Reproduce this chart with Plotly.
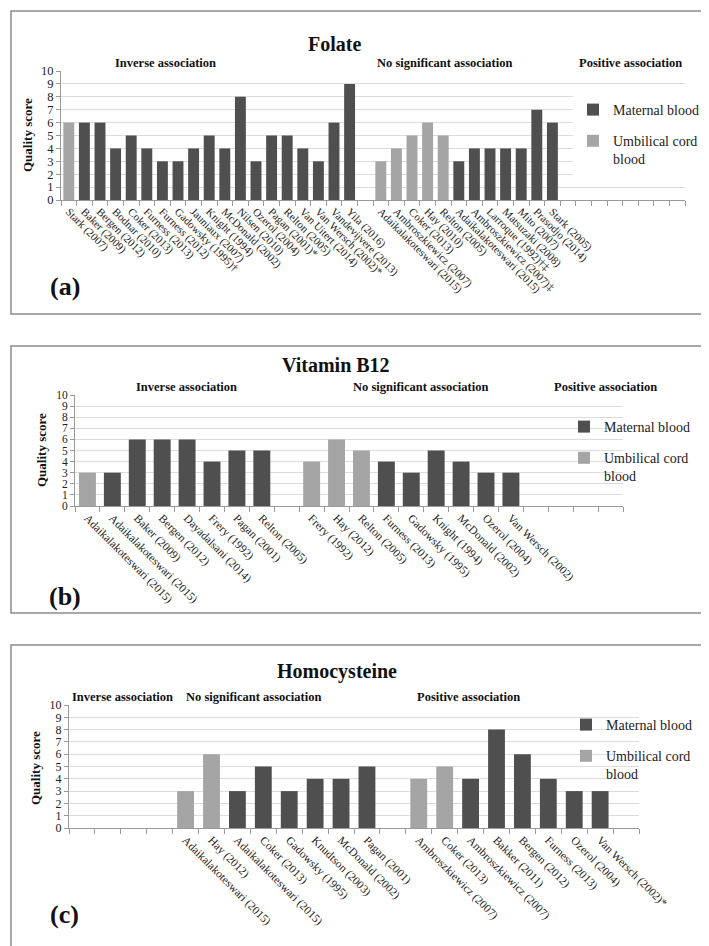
import plotly.graph_objects as go

W, H = 709, 946
SERIF = "Liberation Serif"
DARK = "#4f4f4f"
LIGHT = "#a5a5a5"
AXIS = "#9a9a9a"
GRID = "#dcdcdc"

# ---------------- Folate ----------------
FOL_INV_LABELS = ["Stark (2007)", "Baker (2009)", "Bergen (2012)", "Bodnar (2010)", "Coker (2013)",
                  "Furness (2013)", "Furness (2012)", "Gadowsky (1995)†", "Jauniaux (2007)",
                  "Knight (1994)", "McDonald (2002)", "Nilsen (2010)", "Ozerol (2004)",
                  "Pagan (2001)*", "Relton (2005)", "Van Uitert (2014)", "Van Wersch (2002)*",
                  "Vandevijvere (2013)", "Yila (2016)"]
FOL_INV_VALUES = [6, 6, 6, 4, 5, 4, 3, 3, 4, 5, 4, 8, 3, 5, 5, 4, 3, 6, 9]
FOL_INV_SOURCE = ["U", "M", "M", "M", "M", "M", "M", "M", "M", "M", "M", "M", "M", "M", "M", "M", "M", "M", "M"]

FOL_NS_LABELS = ["Adaikalakoteswari (2015)", "Ambroszkiewicz (2007)", "Coker (2013)", "Hay (2010)",
                 "Relton (2005)", "Adaikalakoteswari (2015)", "Ambroszkiewicz (2007)‡",
                 "Larroque (1992)†‡", "Matsuzaki (2008)", "Mito (2007)", "Prasodjo (2014)", "Stark (2005)"]
FOL_NS_VALUES = [3, 4, 5, 6, 5, 3, 4, 4, 4, 4, 7, 6]
FOL_NS_SOURCE = ["U", "U", "U", "U", "U", "M", "M", "M", "M", "M", "M", "M"]

# ---------------- Vitamin B12 ----------------
B12_INV_LABELS = ["Adaikalakoteswari (2015)", "Adaikalakoteswari (2015)", "Baker (2009)", "Bergen (2012)",
                  "Dayadalsani (2014)", "Frery (1992)", "Pagan (2001)", "Relton (2005)"]
B12_INV_VALUES = [3, 3, 6, 6, 6, 4, 5, 5]
B12_INV_SOURCE = ["U", "M", "M", "M", "M", "M", "M", "M"]

B12_NS_LABELS = ["Frery (1992)", "Hay (2012)", "Relton (2005)", "Furness (2013)", "Gadowsky (1995)",
                 "Knight (1994)", "McDonald (2002)", "Ozerol (2004)", "Van Wersch (2002)"]
B12_NS_VALUES = [4, 6, 5, 4, 3, 5, 4, 3, 3]
B12_NS_SOURCE = ["U", "U", "U", "M", "M", "M", "M", "M", "M"]

# ---------------- Homocysteine ----------------
HCY_NS_LABELS = ["Adaikalakoteswari (2015)", "Hay (2012)", "Adaikalakoteswari (2015)", "Coker (2013)",
                 "Gadowsky (1995)", "Knudtson (2003)", "McDonald (2002)", "Pagan (2001)"]
HCY_NS_VALUES = [3, 6, 3, 5, 3, 4, 4, 5]
HCY_NS_SOURCE = ["U", "U", "M", "M", "M", "M", "M", "M"]

HCY_POS_LABELS = ["Ambroszkiewicz (2007)", "Coker (2013)", "Ambroszkiewicz (2007)", "Bakker (2011)",
                  "Bergen (2012)", "Furness (2013)", "Ozerol (2004)", "Van Wersch (2002)*"]
HCY_POS_VALUES = [4, 5, 4, 8, 6, 4, 3, 3]
HCY_POS_SOURCE = ["U", "U", "M", "M", "M", "M", "M", "M"]

SECTIONS = ["Inverse association", "No significant association", "Positive association"]
SERIES = {"M": ("Maternal blood", DARK), "U": ("Umbilical cord<br>blood", LIGHT)}


def place(segments):
    labels, values, sources = [], [], []
    for seg in segments:
        if isinstance(seg, int):
            labels += [""] * seg
            values += [None] * seg
            sources += [None] * seg
        else:
            labels += list(seg[0])
            values += list(seg[1])
            sources += list(seg[2])
    return labels, values, sources


PANELS = [
    dict(title="Folate", tag="(a)",
         segments=[(FOL_INV_LABELS, FOL_INV_VALUES, FOL_INV_SOURCE), 1,
                   (FOL_NS_LABELS, FOL_NS_VALUES, FOL_NS_SOURCE), 8],
         plot=(53, 677, 63, 192), border=(3, 706, 3, 306), title_xy=(326, 36),
         sec_x=[157, 436, 622], sec_y=55, legend_xy=(565, 86), legend_bg="white",
         ytitle_xy=(20, 127), ytick=12.5,
         tag_xy=(57, 278), bargap=0.3, tickfont=11),
    dict(title="Vitamin B12", tag="(b)",
         segments=[(B12_INV_LABELS, B12_INV_VALUES, B12_INV_SOURCE), 1,
                   (B12_NS_LABELS, B12_NS_VALUES, B12_NS_SOURCE), 4],
         plot=(67, 615, 387, 498), border=(3, 706, 338, 605), title_xy=(328, 357),
         sec_x=[178, 412, 597], sec_y=379, legend_xy=(556, 403), legend_bg="rgba(0,0,0,0)",
         ytitle_xy=(34, 442), ytick=11.5,
         tag_xy=(57, 588), bargap=0.32, tickfont=11.5),
    dict(title="Homocysteine", tag="(c)",
         segments=[4, (HCY_NS_LABELS, HCY_NS_VALUES, HCY_NS_SOURCE), 1,
                   (HCY_POS_LABELS, HCY_POS_VALUES, HCY_POS_SOURCE), 1],
         plot=(61, 631, 697, 820), border=(3, 706, 637, 943), title_xy=(329, 663),
         sec_x=[114, 245, 460], sec_y=689, legend_xy=(558, 701), legend_bg="rgba(0,0,0,0)",
         ytitle_xy=(27, 760), ytick=12,
         tag_xy=(56, 906), bargap=0.35, tickfont=11.5),
]


def px(x):
    return x / W


def py(y):
    return 1 - y / H


fig = go.Figure()
annotations, shapes = [], []
layout = {}

for k, p in enumerate(PANELS, start=1):
    sfx = "" if k == 1 else str(k)
    labels, values, sources = place(p["segments"])
    n = len(labels)
    legend_name = "legend" + sfx
    for key in ["M", "U"]:
        name, color = SERIES[key]
        xs = [i for i, s in enumerate(sources) if s == key]
        ys = [values[i] for i in xs]
        fig.add_trace(go.Bar(x=xs, y=ys, name=name, marker=dict(color=color, line=dict(width=0)),
                             width=1 - p["bargap"],
                             xaxis="x" + sfx, yaxis="y" + sfx, legend=legend_name,
                             legendgroup=f"{k}{key}", showlegend=True))
    x0, x1, y0, y1 = p["plot"]
    tickvals = [i for i, lab in enumerate(labels) if lab]
    layout["xaxis" + sfx] = dict(
        domain=[px(x0), px(x1)], range=[-0.5, n - 0.5], anchor="y" + sfx,
        tickmode="array", tickvals=tickvals, ticktext=[labels[i] for i in tickvals],
        tickangle=45, ticks="", showgrid=False, zeroline=False,
        showline=True, linecolor=AXIS, linewidth=1,
        tickfont=dict(family=SERIF, size=p["tickfont"], color="#222"),
        minor=dict(tickmode="array", tickvals=[i - 0.5 for i in range(n + 1)],
                   ticks="outside", ticklen=5, tickcolor=AXIS, tickwidth=1, showgrid=False),
        automargin=False, fixedrange=True)
    layout["yaxis" + sfx] = dict(
        domain=[py(y1), py(y0)], range=[0, 10], anchor="x" + sfx,
        tickmode="array", tickvals=list(range(0, 11)),
        ticks="outside", ticklen=4, tickcolor=AXIS,
        showgrid=True, gridcolor=GRID, gridwidth=1, zeroline=False,
        showline=True, linecolor=AXIS, linewidth=1,
        tickfont=dict(family=SERIF, size=p["ytick"], color="#222"),
        automargin=False, fixedrange=True)
    lx, ly = p["legend_xy"]
    layout[legend_name] = dict(
        x=px(lx), y=py(ly), xanchor="left", yanchor="top",
        bgcolor=p["legend_bg"], font=dict(family=SERIF, size=14, color="#222"),
        traceorder="grouped", tracegroupgap=10, valign="top", itemwidth=30)
    tx, ty = p["title_xy"]
    annotations.append(dict(text=f"<b>{p['title']}</b>", x=px(tx), y=py(ty), xref="paper", yref="paper",
                            showarrow=False, xanchor="center", yanchor="middle",
                            font=dict(family=SERIF, size=20, color="#111")))
    for text, sx in zip(SECTIONS, p["sec_x"]):
        annotations.append(dict(text=f"<b>{text}</b>", x=px(sx), y=py(p["sec_y"]), xref="paper",
                                yref="paper", showarrow=False, xanchor="center", yanchor="middle",
                                font=dict(family=SERIF, size=12.5, color="#111")))
    yx, yy = p["ytitle_xy"]
    annotations.append(dict(text="<b>Quality score</b>", x=px(yx), y=py(yy), xref="paper", yref="paper",
                            showarrow=False, textangle=-90, xanchor="center", yanchor="middle",
                            font=dict(family=SERIF, size=13, color="#111")))
    gx, gy = p["tag_xy"]
    annotations.append(dict(text=f"<b>{p['tag']}</b>", x=px(gx), y=py(gy), xref="paper", yref="paper",
                            showarrow=False, xanchor="center", yanchor="middle",
                            font=dict(family=SERIF, size=26, color="#111")))
    bx0, bx1, by0, by1 = p["border"]
    shapes.append(dict(type="rect", xref="paper", yref="paper", x0=px(bx0), x1=px(bx1),
                       y0=py(by1), y1=py(by0), line=dict(color="#8c8c8c", width=1.5), layer="below"))

fig.update_layout(
    width=W, height=H, margin=dict(l=0, r=0, t=0, b=0),
    paper_bgcolor="white", plot_bgcolor="white",
    barmode="overlay",
    annotations=annotations, shapes=shapes, **layout)

fig.write_html("out.html")
